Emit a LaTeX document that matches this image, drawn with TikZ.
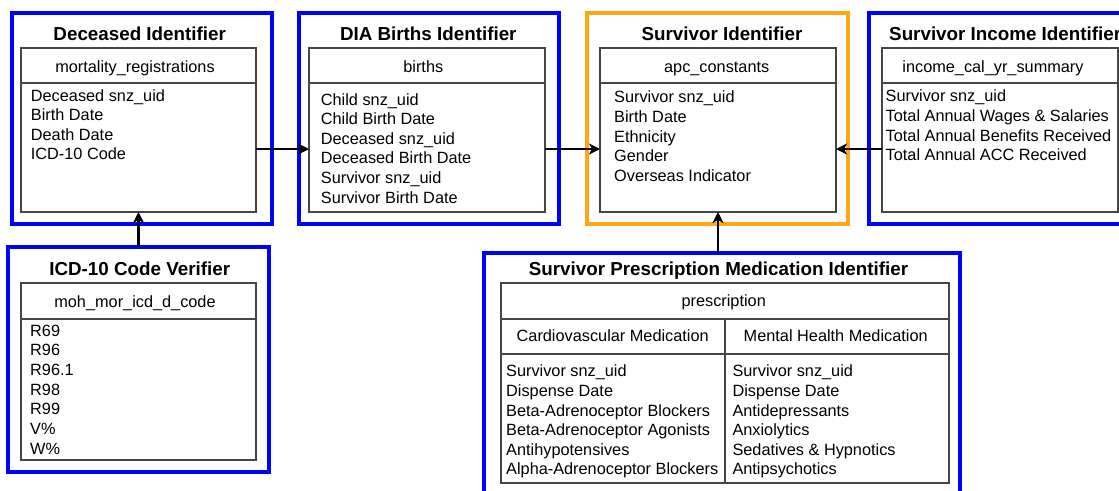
\documentclass[tikz,border=0pt]{standalone}
\usepackage{fontspec}
\setmainfont{Liberation Sans}
\usetikzlibrary{arrows.meta,calc}
\definecolor{boxblue}{RGB}{0,0,255}
\definecolor{boxorange}{RGB}{255,168,20}
\definecolor{tabgray}{RGB}{70,70,70}
\tikzset{
  outer/.style={draw=boxblue, line width=3.2pt, inner sep=0pt, outer sep=0pt},
  outerorange/.style={outer, draw=boxorange},
  tab/.style={draw=tabgray, line width=1.2pt, inner sep=0pt, outer sep=0pt},
  tabline/.style={draw=tabgray, line width=1.2pt},
  title/.style={font=\fontsize{18.8}{22}\selectfont\bfseries, anchor=base, inner sep=0pt},
  head/.style={font=\fontsize{16.3}{19.7}\selectfont, anchor=base, inner sep=0pt},
  row/.style={font=\fontsize{16.3}{19.7}\selectfont, anchor=base west, inner sep=0pt},
  arr/.style={draw=black, line width=2.1pt, -{Stealth[length=11pt,width=11pt,inset=3pt]}}
}
\begin{document}
\begin{tikzpicture}[x=1pt,y=-1pt]
\useasboundingbox (0,0) rectangle (1119,490);
\fill[white] (0,0) rectangle (1119,490);

% ---------- Deceased Identifier ----------
\node[outer, minimum width=260, minimum height=211] (decO) at (142,118.5) {};
\node[tab, minimum width=235, minimum height=164] (decI) at (138.5,130) {};
\draw[tabline] (decI.west |- 0,83) -- (decI.east |- 0,83);
\node[title] (decT) at (139.7,40) {Deceased Identifier};
\node[head] (decH) at (135,72) {mortality\_registrations};
\foreach \t [count=\i] in {Deceased snz\_uid, Birth Date, Death Date, ICD-10 Code}
  \node[row] (decR\i) at (30.7,{101+19.65*(\i-1)}) {\t};

% ---------- DIA Births Identifier ----------
\node[outer, minimum width=260, minimum height=211] (diaO) at (429,118.5) {};
\node[tab, minimum width=236, minimum height=164] (diaI) at (427,130) {};
\draw[tabline] (diaI.west |- 0,83) -- (diaI.east |- 0,83);
\node[title] (diaT) at (428.3,40) {DIA Births Identifier};
\node[head] (diaH) at (423.3,72) {births};
\foreach \t [count=\i] in {Child snz\_uid, Child Birth Date, Deceased snz\_uid, Deceased Birth Date, Survivor snz\_uid, Survivor Birth Date}
  \node[row] (diaR\i) at (320.7,{105+19.65*(\i-1)}) {\t};

% ---------- Survivor Identifier ----------
\node[outerorange, minimum width=261, minimum height=211] (surO) at (717.5,118.5) {};
\node[tab, minimum width=236, minimum height=164] (surI) at (718,130) {};
\draw[tabline] (surI.west |- 0,83) -- (surI.east |- 0,83);
\node[title] (surT) at (722,40) {Survivor Identifier};
\node[head] (surH) at (716.7,72) {apc\_constants};
\foreach \t [count=\i] in {Survivor snz\_uid, Birth Date, Ethnicity, Gender, Overseas Indicator}
  \node[row] (surR\i) at (614,{102.7+19.65*(\i-1)}) {\t};

% ---------- Survivor Income Identifier ----------
\node[outer, minimum width=261, minimum height=211] (incO) at (999.5,118.5) {};
\node[tab, minimum width=236, minimum height=164] (incI) at (1000,130) {};
\draw[tabline] (incI.west |- 0,83) -- (incI.east |- 0,83);
\node[title, anchor=base west] (incT) at (889,40) {Survivor Income Identifier};
\node[head] (incH) at (993,72) {income\_cal\_yr\_summary};
\foreach \t [count=\i] in {Survivor snz\_uid, Total Annual Wages \& Salaries, Total Annual Benefits Received, Total Annual ACC Received}
  \node[row] (incR\i) at (885.5,{101.7+19.65*(\i-1)}) {\t};

% ---------- ICD-10 Code Verifier ----------
\node[outer, minimum width=261, minimum height=225] (icdO) at (138.5,359.5) {};
\node[tab, minimum width=235, minimum height=177] (icdI) at (138.5,371.5) {};
\draw[tabline] (icdI.west |- 0,319) -- (icdI.east |- 0,319);
\node[title] (icdT) at (139.7,275) {ICD-10 Code Verifier};
\node[head] (icdH) at (135,307) {moh\_mor\_icd\_d\_code};
\foreach \t [count=\i] in {R69, R96, R96.1, R98, R99, V\%, W\%}
  \node[row] (icdR\i) at (30,{336+19.67*(\i-1)}) {\t};

% ---------- Survivor Prescription Medication Identifier ----------
\node[outer, minimum width=476, minimum height=244] (preO) at (722,375) {};
\node[tab, minimum width=448, minimum height=200] (preI) at (725,383) {};
\draw[tabline] (preI.west |- 0,319) -- (preI.east |- 0,319);
\draw[tabline] (preI.west |- 0,354) -- (preI.east |- 0,354);
\draw[tabline] (preI.south |- 0,319) -- (preI.south);
\node[title] (preT) at (718.5,275) {Survivor Prescription Medication Identifier};
\node[head] (preH) at (723.7,306.7) {prescription};
\node[head] (preC1) at (612.7,341.7) {Cardiovascular Medication};
\node[head] (preC2) at (835.7,341.7) {Mental Health Medication};
\foreach \t [count=\i] in {Survivor snz\_uid, Dispense Date, Beta-Adrenoceptor Blockers, Beta-Adrenoceptor Agonists, Antihypotensives, Alpha-Adrenoceptor Blockers}
  \node[row] (preA\i) at (506,{376.7+19.65*(\i-1)}) {\t};
\foreach \t [count=\i] in {Survivor snz\_uid, Dispense Date, Antidepressants, Anxiolytics, Sedatives \& Hypnotics, Antipsychotics}
  \node[row] (preB\i) at (732.3,{376.7+19.65*(\i-1)}) {\t};

% ---------- connectors ----------
\coordinate (rowy) at (0,149);
\draw[arr] (decI.east |- rowy) -- (diaI.west |- rowy);
\draw[arr] (diaI.east |- rowy) -- (surI.west |- rowy);
\draw[arr] (incI.west |- rowy) -- (surI.east |- rowy);
\draw[arr] (icdO.north) -- (decI.south);
\draw[arr] (surI.south |- preO.north) -- (surI.south);
\end{tikzpicture}
\end{document}
